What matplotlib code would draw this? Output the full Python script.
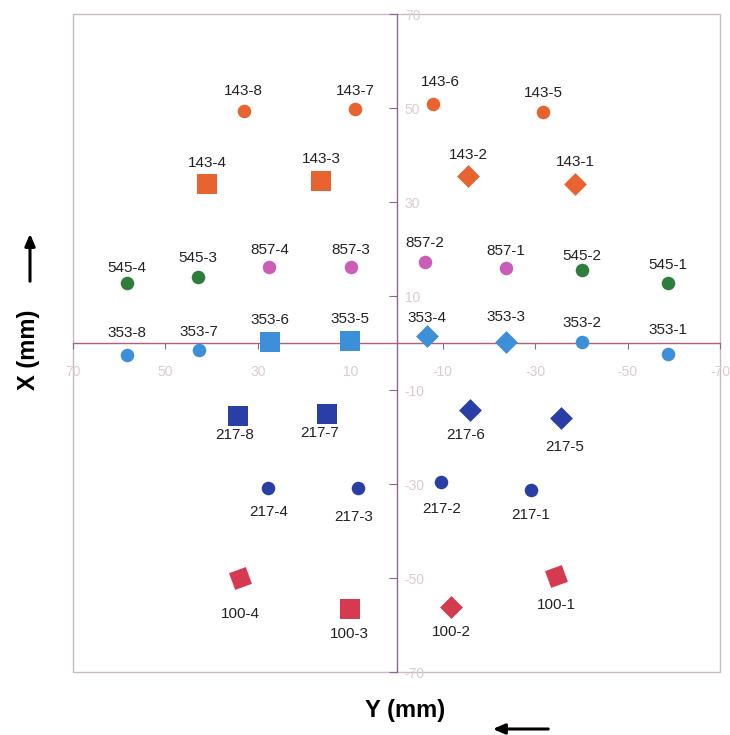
import matplotlib
matplotlib.use("Agg")
import matplotlib.pyplot as plt
from matplotlib.patches import Rectangle, FancyArrowPatch

plt.rcParams['font.family'] = ['Liberation Sans', 'DejaVu Sans']
plt.rcParams['axes.unicode_minus'] = False

# Probe positions: Y (horizontal, mm) and X (vertical, mm)
names = ["143-8", "143-7", "143-6", "143-5", "143-4", "143-3", "143-2", "143-1",
         "545-4", "545-3", "857-4", "857-3", "857-2", "857-1", "545-2", "545-1",
         "353-8", "353-7", "353-6", "353-5", "353-4", "353-3", "353-2", "353-1",
         "217-8", "217-7", "217-6", "217-5", "217-4", "217-3", "217-2", "217-1",
         "100-4", "100-3", "100-2", "100-1"]
y_mm = [33.1, 9.0, -8.0, -31.8, 40.9, 16.3, -15.5, -38.7,
        58.3, 43.0, 27.5, 9.9, -6.2, -23.7, -40.2, -58.7,
        58.3, 42.8, 27.3, 10.1, -6.5, -23.7, -40.2, -58.7,
        34.2, 15.1, -15.9, -35.5, 27.7, 8.4, -9.7, -29.0,
        33.8, 10.1, -11.8, -34.6]
x_mm = [49.4, 49.8, 50.9, 49.1, 33.8, 34.5, 35.5, 33.8,
        12.8, 14.0, 16.2, 16.2, 17.2, 16.0, 15.5, 12.8,
        -2.6, -1.5, 0.2, 0.4, 1.5, 0.2, 0.2, -2.3,
        -15.5, -15.1, -14.3, -16.0, -30.9, -30.9, -29.6, -31.3,
        -50.0, -56.6, -56.2, -49.6]
shapes = ["o", "o", "o", "o", "s", "s", "D", "D",
          "o", "o", "o", "o", "o", "o", "o", "o",
          "o", "o", "s", "s", "D", "D", "o", "o",
          "s", "s", "D", "D", "o", "o", "o", "o",
          "t", "s", "D", "t"]

# Label placement (points above / below the marker centre)
label_dy = [14, 13, 16, 14, 15, 16, 15, 16,
            11, 14, 12, 12, 14, 12, 10, 13,
            16, 13, 16, 16, 13, 18, 14, 17,
            -14, -14, -18, -21, -17, -21, -19, -18,
            -26, -18, -18, -21]
label_dx = [0, 0, 5, 0, 0, 0, 0, 0,
            0, 0, 0, 0, 0, 0, 0, 0,
            0, 0, 0, 0, 0, 0, 0, 0,
            -3, -5, -3, 3, 0, -3, 0, 0,
            0, 0, 0, 0]

group_colors = {"143": "#E8632F", "545": "#2E7D3C", "857": "#C95DB7",
                "353": "#3D8FDA", "217": "#2A3FA5", "100": "#D53A50"}
shape_marker = {"o": "o", "s": "s", "D": "D", "t": (4, 0, -25)}
shape_size = {"o": 95, "s": 190, "D": 135, "t": 330}

fig = plt.figure(figsize=(7.3, 7.35), dpi=100)
ax = fig.add_axes([73 / 730, 1 - 672 / 735, (720 - 73) / 730, (672 - 14) / 735])

for name, yv, xv, shp in zip(names, y_mm, x_mm, shapes):
    ax.scatter([yv], [xv], marker=shape_marker[shp], s=shape_size[shp],
               color=group_colors[name[:3]], linewidths=0, zorder=3)

for name, yv, xv, dy, dx in zip(names, y_mm, x_mm, label_dy, label_dx):
    ax.annotate(name, (yv, xv), xytext=(dx, dy), textcoords="offset points",
                ha="center", va="center", fontsize=11, color="#222222", zorder=4)

ax.set_xlim(70, -70)
ax.set_ylim(-70, 70)

ticks = [70, 50, 30, 10, -10, -30, -50, -70]
ax.set_xticks(ticks)
ax.set_yticks(ticks)

# Axes crossing at the origin
ax.spines["top"].set_visible(False)
ax.spines["left"].set_visible(False)
ax.spines["bottom"].set_position(("data", 0))
ax.spines["right"].set_position(("data", 0))
ax.spines["bottom"].set_color("#B0607E")
ax.spines["right"].set_color("#8E6692")
ax.spines["bottom"].set_linewidth(1.0)
ax.spines["right"].set_linewidth(1.0)
ax.yaxis.tick_right()

tick_color = "#DCCAD4"
ax.tick_params(axis="x", direction="out", length=4, width=0.8, color="#8E6692",
               labelcolor=tick_color, labelsize=10, pad=12)
ax.tick_params(axis="y", direction="in", length=6, width=0.8, color="#8E6692",
               labelcolor=tick_color, labelsize=10, pad=6)

# Outer frame
ax.add_patch(Rectangle((0, 0), 1, 1, transform=ax.transAxes, fill=False,
                       ec="#C9B8C6", lw=1.0, clip_on=False, zorder=1))

# Axis titles with direction arrows
fig.text(405 / 730, 1 - 711 / 735, "Y (mm)", fontsize=17, fontweight="bold",
         ha="center", va="center")
fig.text(28 / 730, 1 - 350 / 735, "X (mm)", fontsize=17, fontweight="bold",
         ha="center", va="center", rotation=90)
arrow_style = dict(arrowstyle="-|>,head_length=0.7,head_width=0.3", color="black", lw=2.2)
fig.patches.append(FancyArrowPatch(
    (551 / 730, 1 - 729 / 735), (490 / 730, 1 - 729 / 735),
    transform=fig.transFigure, mutation_scale=10, **arrow_style))
fig.patches.append(FancyArrowPatch(
    (30 / 730, 1 - 284 / 735), (30 / 730, 1 - 231 / 735),
    transform=fig.transFigure, mutation_scale=10, **arrow_style))

fig.savefig("out.png", dpi=100)
